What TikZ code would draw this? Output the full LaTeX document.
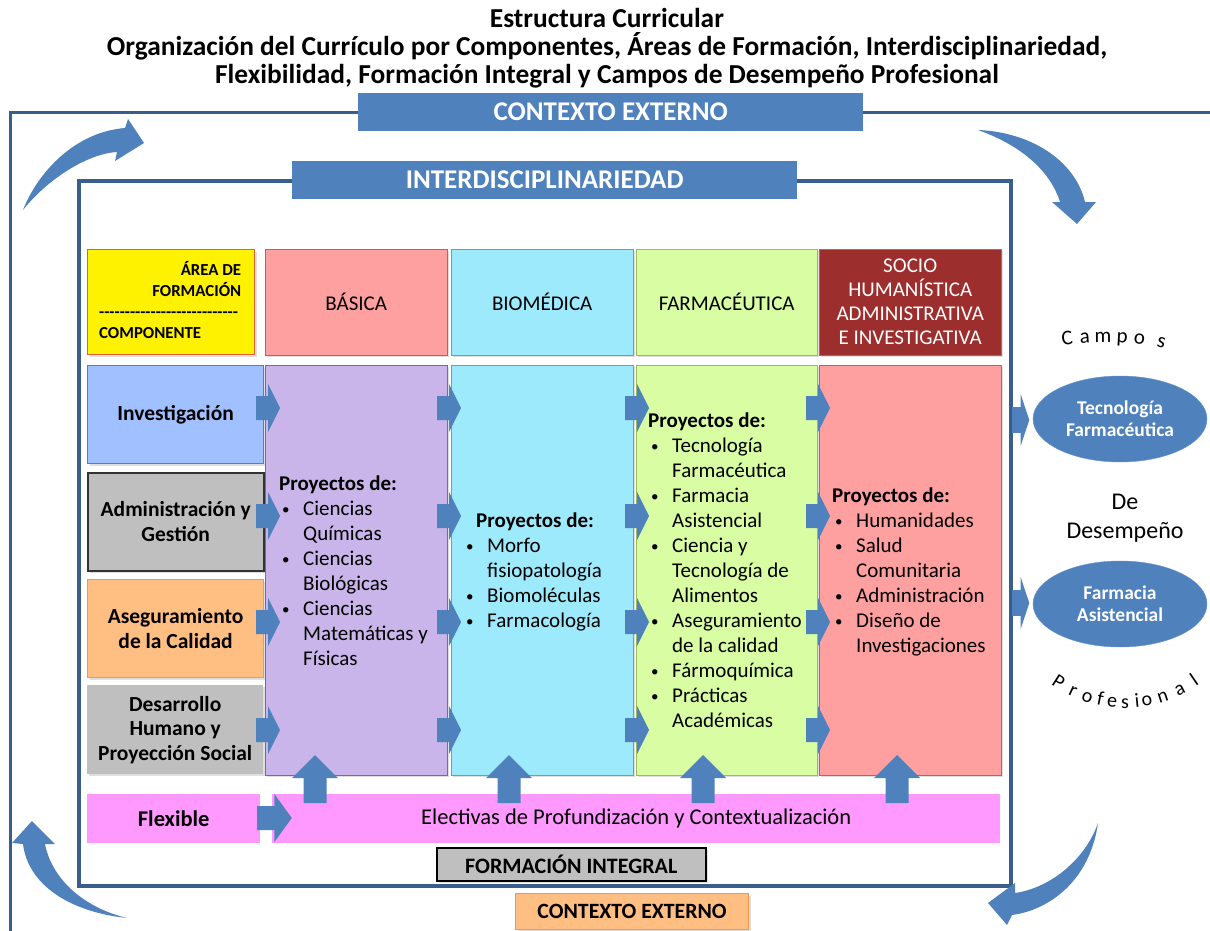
\documentclass[tikz,border=0pt]{standalone}
\usepackage{fontspec}
\setmainfont{Carlito}
\usetikzlibrary{positioning,shapes.geometric,shadows}

\definecolor{barblue}{RGB}{79,129,189}
\definecolor{frameblue}{RGB}{58,94,140}
\definecolor{basicafill}{RGB}{255,160,160}
\definecolor{basicaborde}{RGB}{205,90,90}
\definecolor{biomedfill}{RGB}{158,234,253}
\definecolor{biomedborde}{RGB}{75,172,198}
\definecolor{farmafill}{RGB}{217,253,163}
\definecolor{farmaborde}{RGB}{155,187,89}
\definecolor{sociofill}{RGB}{157,46,46}
\definecolor{lilafill}{RGB}{201,181,233}
\definecolor{lilaborde}{RGB}{128,100,162}
\definecolor{investfill}{RGB}{160,192,255}
\definecolor{grisfill}{RGB}{191,191,191}
\definecolor{naranjafill}{RGB}{255,190,130}
\definecolor{naranjaborde}{RGB}{247,150,70}
\definecolor{amarilloborde}{RGB}{220,100,50}
\definecolor{flexfill}{RGB}{255,153,255}

\newcommand{\bul}{\makebox[24pt][l]{\hspace*{3pt}\raisebox{1.5pt}{\fontsize{15}{15}\selectfont\textbullet}}}
\newcommand{\ind}{\hspace*{24pt}}
\newcommand{\dashrow}{\foreach \k in {1,...,27}{-\kern0pt}}

\tikzset{
  bluebar/.style={fill=barblue, text=white, inner sep=0pt, anchor=north west,
    font=\bfseries\fontsize{27}{30}\selectfont},
  cell/.style={anchor=north west, inner sep=0pt, align=flush center,
    font=\fontsize{21}{24}\selectfont,
    drop shadow={opacity=0.25, shadow xshift=2pt, shadow yshift=-2pt}},
  comp/.style={cell, minimum width=176pt, minimum height=98pt, text width=172pt,
    font=\bfseries\fontsize{21.5}{24.5}\selectfont},
  area/.style={cell, minimum width=182pt, minimum height=106pt, text width=178pt},
  column/.style={cell, minimum width=182pt, minimum height=410pt},
  proj/.style={anchor=north west, inner sep=0pt, text width=170pt, align=flush left,
    font=\fontsize{21}{25}\selectfont},
  campo/.style={ellipse, fill=barblue, draw=barblue!85!white, minimum width=174pt,
    minimum height=86pt, inner sep=0pt, text=white, align=center,
    font=\bfseries\fontsize{19.5}{22}\selectfont},
  arcletter/.style={anchor=base, inner sep=0pt, font=\fontsize{21}{24}\selectfont},
  rblock/.pic={\fill[barblue] (0,-12) -- (12,-12) -- (12,-24) -- (24,0) -- (12,24)
    -- (12,12) -- (0,12) -- cycle;},
  ublock/.pic={\fill[barblue] (-11.5,0) -- (-11.5,-25) -- (-23,-25) -- (0,-48)
    -- (23,-25) -- (11.5,-25) -- (11.5,0) -- cycle;}
}

\begin{document}
\begin{tikzpicture}[x=1pt,y=-1pt]
\useasboundingbox (0,0) rectangle (1210,931);
%% title
\node[anchor=north, inner sep=0pt, align=center,
  font=\bfseries\fontsize{27.4}{28}\selectfont] (titulo) at (607,8)
  {Estructura Curricular\\
   Organización del Currículo por Componentes, Áreas de Formación, Interdisciplinariedad,\\
   Flexibilidad, Formación Integral y Campos de Desempeño Profesional};
%% frames
\draw[frameblue, line width=3pt] (10,935) -- (10,113) -- (1215,113);
\draw[frameblue, line width=4pt] (79,181) rectangle (1011,886);
\node[bluebar, minimum width=505pt, minimum height=38pt] (ctxtop) at (358,93) {CONTEXTO EXTERNO};
\node[bluebar, minimum width=505pt, minimum height=38pt] (interd) at (292,161) {INTERDISCIPLINARIEDAD};
%% curved arrows
\fill[barblue] (23,210) .. controls (38,172) and (75,132) .. (125,128) -- (128,119)
  -- (144,143) -- (115,161) -- (117,152) .. controls (85,154) and (45,182) .. (23,210) -- cycle;
\fill[barblue] (978,130) .. controls (1030,132) and (1075,160) .. (1085,202) -- (1096,202)
  -- (1077,224) -- (1052,202) -- (1060,202) .. controls (1050,170) and (1020,145) .. (978,130) -- cycle;
\fill[barblue] (1098,823) .. controls (1090,880) and (1050,910) .. (1012,915) -- (1007,925)
  -- (988,903) -- (1015,883) -- (1015,893) .. controls (1050,888) and (1085,860) .. (1098,823) -- cycle;
\fill[barblue] (127,918) .. controls (70,912) and (28,885) .. (23,844) -- (12,843)
  -- (32,821) -- (55,844) -- (45,844) .. controls (52,880) and (85,908) .. (127,918) -- cycle;
%% header row
\node[cell, fill=yellow, draw=amarilloborde, line width=1.2pt, minimum width=167pt,
  minimum height=105pt] (areacomp) at (87,249) {};
\node[anchor=north west, inner sep=0pt, text width=142pt, align=flush left,
  font=\bfseries\fontsize{16.8}{21}\selectfont] (areatxt) at (99,261)
  {\hspace*{\fill}ÁREA DE\\ \hspace*{\fill}FORMACIÓN\\ \dashrow\\ COMPONENTE};
\node[area, fill=basicafill, draw=basicaborde] (basica) at (265,249) {BÁSICA};
\node[area, fill=biomedfill, draw=biomedborde] (biomed) at (451,249) {BIOMÉDICA};
\node[area, fill=farmafill, draw=farmaborde, minimum width=181pt] (farma) at (636,249) {FARMACÉUTICA};
\node[area, fill=sociofill, draw=basicaborde, text=white] (socio) at (819,249)
  {SOCIO\\HUMANÍSTICA\\ADMINISTRATIVA\\E INVESTIGATIVA};
%% componentes
\node[comp, fill=investfill, draw=barblue, line width=1.2pt] (investig) at (87,365) {Investigación};
\node[comp, fill=grisfill, draw=black!80, line width=1.5pt] (admin) at (87,472) {Administración y\\Gestión};
\node[comp, fill=naranjafill, draw=naranjaborde, line width=1.2pt] (asegur) at (87,579) {Aseguramiento\\de la Calidad};
\node[comp, fill=grisfill, minimum height=89pt] (desarr) at (87,685) {Desarrollo\\Humano y\\Proyección Social};
%% columnas
\node[column, fill=lilafill, draw=lilaborde] (colbasica) at (265,365) {};
\node[column, fill=biomedfill, draw=biomedborde] (colbiomed) at (451,365) {};
\node[column, fill=farmafill, draw=farmaborde, minimum width=181pt] (colfarma) at (636,365) {};
\node[column, fill=basicafill, draw=basicaborde] (colsocio) at (819,365) {};
\node[proj] (projbasica) at (279,476)
  {\textbf{Proyectos de:}\\ \bul Ciencias\\ \ind Químicas\\ \bul Ciencias\\ \ind Biológicas\\
   \bul Ciencias\\ \ind Matemáticas y\\ \ind Físicas};
\node[proj] (projbiomed) at (463,513)
  {\hspace*{13pt}\textbf{Proyectos de:}\\ \bul Morfo\\ \ind fisiopatología\\ \bul Biomoléculas\\
   \bul Farmacología};
\node[proj] (projfarma) at (648,413)
  {\textbf{Proyectos de:}\\ \bul Tecnología\\ \ind Farmacéutica\\ \bul Farmacia\\ \ind Asistencial\\
   \bul Ciencia y\\ \ind Tecnología de\\ \ind Alimentos\\ \bul Aseguramiento\\ \ind de la calidad\\
   \bul Fármoquímica\\ \bul Prácticas\\ \ind Académicas};
\node[proj] (projsocio) at (832,488)
  {\textbf{Proyectos de:}\\ \bul Humanidades\\ \bul Salud\\ \ind Comunitaria\\ \bul Administración\\
   \bul Diseño de\\ \ind Investigaciones};
%% flechas de componentes hacia las areas
\foreach \xa in {256,437,625,806}
  \foreach \ya in {408,516,622,730}
    \pic at (\xa,\ya) {rblock};
%% flexibilidad
\node[anchor=north west, fill=flexfill, inner sep=0pt, minimum width=173pt, minimum height=49pt,
  font=\bfseries\fontsize{22.5}{24}\selectfont] (flexible) at (87,794) {Flexible};
\node[anchor=north west, fill=flexfill, inner sep=0pt, minimum width=728pt, minimum height=49pt,
  font=\fontsize{22.5}{24}\selectfont] (electivas) at (272,794)
  {Electivas de Profundización y Contextualización};
\pic[xscale=1.45] at (257,818) {rblock};
\foreach \xu in {315,509,703,897}
  \pic at (\xu,803) {ublock};
\node[cell, fill=grisfill, draw=black, line width=1.5pt, minimum width=269pt, minimum height=33pt,
  font=\bfseries\fontsize{22}{24}\selectfont] (integral) at (436,847) {FORMACIÓN INTEGRAL};
\node[cell, fill=naranjafill, draw=naranjaborde, line width=1.2pt, minimum width=233pt,
  minimum height=36pt, font=\bfseries\fontsize{21.8}{24}\selectfont] (ctxbottom) at (515,893) {CONTEXTO EXTERNO};
%% campos de desempeno
\node[campo] (tecfarma) at (1120,419) {Tecnología\\Farmacéutica};
\node[campo] (farmasist) at (1120,604) {Farmacia\\Asistencial};
\pic[xscale=0.72, yscale=1.08] at (1012,420) {rblock};
\pic[xscale=0.72, yscale=1.08] at (1012,603) {rblock};
\node[align=center, inner sep=0pt, font=\fontsize{24}{29}\selectfont] (desempeno) at (1125,518) {De\\Desempeño};
\foreach \ch/\ang/\rot in {C/-7.1/7.1, a/-3.8/3.8, m/-0.4/0.4, p/3.2/-3.2, o/6.5/-6.5, s/10.6/-14}
  \node[arcletter, rotate=\rot] at ({1105+300*sin(\ang)},{642-300*cos(\ang)}) {\ch};
\foreach \ch/\ang in {P/-32.7, r/-24.8, o/-17.8, f/-11.6, e/-6, s/0, i/5.6, o/10.2, n/17.8, a/26.3, l/34.4}
  \node[arcletter, rotate=\ang, font=\fontsize{20}{24}\selectfont] at ({1125+129*sin(\ang)},{579+129*cos(\ang)}) {\ch};
\end{tikzpicture}
\end{document}
